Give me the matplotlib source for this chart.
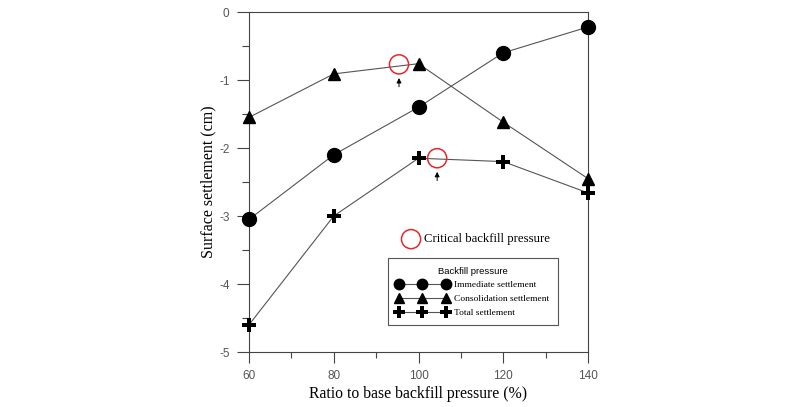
import matplotlib
matplotlib.use("Agg")
import matplotlib.pyplot as plt
from matplotlib.lines import Line2D
from matplotlib.ticker import MultipleLocator

# data
ratio = [60, 80, 100, 120, 140]
immediate = [-3.05, -2.10, -1.40, -0.60, -0.22]
consolidation = [-1.55, -0.91, -0.76, -1.62, -2.45]
total = [-4.60, -3.00, -2.15, -2.20, -2.66]

# critical backfill pressure points (x, y)
critical_x = [95.4, 104.4]
critical_y = [-0.77, -2.15]

SERIF = "Liberation Serif"
SANS = "Liberation Sans"
plt.rcParams["axes.unicode_minus"] = False

fig = plt.figure(figsize=(8.0, 4.07), dpi=100)
ax = fig.add_axes([0.31125, 0.1351, 0.42375, 0.8354])

line_kw = dict(color="#555555", linewidth=0.8, markerfacecolor="black",
               markeredgecolor="black")
ax.plot(ratio, immediate, marker="o", markersize=10, clip_on=False, zorder=4, **line_kw)
ax.plot(ratio, consolidation, marker="^", markersize=9, clip_on=False, zorder=4, **line_kw)
ax.plot(ratio, total, marker="P", markersize=10, markeredgewidth=0, clip_on=False,
        zorder=4, **line_kw)

ax.scatter(critical_x, critical_y, s=190, facecolors="none", edgecolors="#e8262a",
           linewidths=1.1, zorder=5)
for cx, cy in zip(critical_x, critical_y):
    ax.annotate("", xy=(cx, cy - 0.16), xytext=(cx, cy - 0.37),
                arrowprops=dict(arrowstyle="-|>", color="black", lw=0.7,
                                mutation_scale=7))

ax.set_xlim(60, 140)
ax.set_ylim(-5, 0)
ax.xaxis.set_major_locator(MultipleLocator(20))
ax.xaxis.set_minor_locator(MultipleLocator(10))
ax.yaxis.set_major_locator(MultipleLocator(1))
ax.yaxis.set_minor_locator(MultipleLocator(0.5))
ax.tick_params(which="major", direction="out", length=8, width=0.8,
               colors="#444444", labelsize=8.5, pad=5)
ax.tick_params(which="minor", direction="out", length=4, width=0.8, colors="#444444")
ax.tick_params(axis="y", which="major", length=9)
ax.tick_params(axis="y", which="minor", length=5)
for lab in ax.get_xticklabels() + ax.get_yticklabels():
    lab.set_fontfamily(SANS)
    lab.set_color("#555555")
for sp in ax.spines.values():
    sp.set_color("#444444")
    sp.set_linewidth(0.8)

ax.set_xlabel("Ratio to base backfill pressure (%)", family=SERIF, fontsize=11.3,
              labelpad=3)
ax.set_ylabel("Surface settlement (cm)", family=SERIF, fontsize=11.5, labelpad=2)

# critical pressure note
ax.scatter([0.478], [0.332], s=190, facecolors="none", edgecolors="#e8262a",
           linewidths=1.1, transform=ax.transAxes, clip_on=False)
ax.text(0.515, 0.332, "Critical backfill pressure", transform=ax.transAxes,
        family=SERIF, fontsize=9.2, va="center")

handles = [
    Line2D([], [], marker="o", markersize=7.5, **line_kw),
    Line2D([], [], marker="^", markersize=7, **line_kw),
    Line2D([], [], marker="P", markersize=8, markeredgewidth=0, **line_kw),
]
labels = ["Immediate settlement", "Consolidation settlement", "Total settlement"]
leg = ax.legend(handles, labels, numpoints=3, loc="upper left",
                bbox_to_anchor=(0.485, 0.366), bbox_transform=fig.transFigure,
                title="Backfill pressure", fancybox=False, edgecolor="#555555",
                framealpha=1, prop={"family": SERIF, "size": 6.8},
                title_fontproperties={"family": SANS, "size": 6.8},
                handlelength=5.5, handletextpad=0.6, labelspacing=0.55,
                borderpad=0.9, borderaxespad=0)
leg.get_frame().set_linewidth(0.8)

fig.savefig("out.png", dpi=100)
